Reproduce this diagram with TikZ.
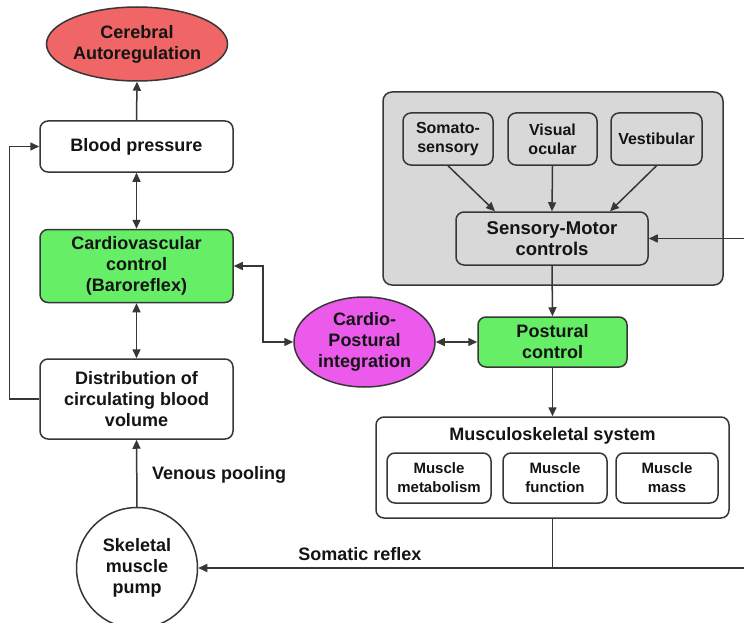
\documentclass[tikz,border=0pt]{standalone}
\usepackage{fontspec}
\setmainfont{Liberation Sans}
\usetikzlibrary{arrows.meta,shapes.geometric}
\definecolor{lc}{RGB}{55,55,55}
\definecolor{redfill}{RGB}{240,102,102}
\definecolor{greenfill}{RGB}{102,238,102}
\definecolor{magfill}{RGB}{236,90,236}
\definecolor{grayfill}{RGB}{216,216,216}
\definecolor{txt}{RGB}{20,20,20}
\begin{document}
\begin{tikzpicture}[x=1pt,y=-1pt,
  base/.style={draw=lc,line width=1.5pt,text=txt,align=center,inner sep=0pt,font=\fontsize{18}{21}\selectfont\bfseries},
  box/.style={base,rectangle,rounded corners=8pt},
  sbox/.style={box,font=\fontsize{16}{19}\selectfont\bfseries},
  mbox/.style={box,font=\fontsize{15}{19}\selectfont\bfseries,minimum width=104pt,minimum height=50pt},
  ell/.style={base,ellipse},
  lbl/.style={text=txt,inner sep=0pt,font=\fontsize{18}{21}\selectfont\bfseries},
  conn/.style={draw=lc,line width=1.5pt},
  arr/.style={conn,-{Triangle[length=9pt,width=8pt]}},
  darr/.style={conn,{Triangle[length=9pt,width=8pt]}-{Triangle[length=9pt,width=8pt]}}
]
\useasboundingbox (0,0) rectangle (744,623);
\fill[white] (0,0) rectangle (744,623);

% gray panel
\node[draw=lc,line width=1.5pt,fill=grayfill,rounded corners=9pt,minimum width=340pt,minimum height=193pt,inner sep=0pt] (panel) at (553,188.5) {};

% left column
\node[ell,fill=redfill,minimum width=172pt,minimum height=74pt] (cer) at (137,44) {Cerebral\\Autoregulation};
\node[box,fill=white,minimum width=193pt,minimum height=51pt] (bp) at (136.5,146.5) {Blood pressure};
\node[box,fill=greenfill,minimum width=193pt,minimum height=73pt] (cv) at (136.5,266) {Cardiovascular\\control\\(Baroreflex)};
\node[box,fill=white,minimum width=193pt,minimum height=80pt] (dist) at (136.5,399) {Distribution of\\circulating blood\\volume};
\node[base,circle,fill=white,minimum size=121pt] (pump) at (137,568) {Skeletal\\muscle\\pump};

% middle
\node[ell,fill=magfill,minimum width=141pt,minimum height=90pt] (cp) at (364.5,342) {Cardio-\\Postural\\integration};
\node[box,fill=greenfill,minimum width=149pt,minimum height=50pt] (pc) at (552.5,342) {Postural\\control};

% sensory
\node[sbox,fill=grayfill,minimum width=90pt,minimum height=52pt] (soma) at (448,139) {Somato-\\sensory};
\node[sbox,fill=grayfill,minimum width=89pt,minimum height=52pt] (vis) at (552.5,139) {Visual\\ocular};
\node[sbox,fill=grayfill,minimum width=91pt,minimum height=52pt] (vest) at (656.5,139) {Vestibular};
\node[box,fill=grayfill,minimum width=192pt,minimum height=53pt,font=\fontsize{18.5}{21}\selectfont\bfseries] (sm) at (552,238.5) {Sensory-Motor\\controls};

% musculoskeletal
\node[box,fill=white,minimum width=353pt,minimum height=101pt] (msk) at (552.5,467.5) {};
\node[lbl] (msktitle) at (552.5,436) {Musculoskeletal system};
\node[mbox,fill=white] (mm1) at (439,478) {Muscle\\metabolism};
\node[mbox,fill=white] (mm2) at (555,478) {Muscle\\function};
\node[mbox,fill=white,minimum width=102pt] (mm3) at (667,478) {Muscle\\mass};

% labels
\node[lbl] (venous) at (219,475) {Venous pooling};
\node[lbl] (somatic) at (360,554) {Somatic reflex};

% free ends
\coordinate (rin) at (744,238.5);
\coordinate (rout) at (744,568);

% connectors
\draw[arr] (bp.north) -- (cer.south);
\draw[darr] (bp.south) -- (cv.north);
\draw[darr] (cv.south) -- (dist.north);
\draw[arr] (pump.north) -- (dist.south);
\draw[arr] (dist.west) -- ++(-30,0) |- (bp.west);
\draw[darr] (cv.east) -- ++(29,0) |- (cp.west);
\draw[darr] (cp.east) -- (pc.west);
\draw[arr] (soma.south) -- ([xshift=-57pt]sm.north);
\draw[arr] (vis.south) -- (sm.north);
\draw[arr] (vest.south) -- ([xshift=58pt]sm.north);
\draw[arr] (rin) -- (sm.east);
\draw[arr] (sm.south) -- (pc.north);
\draw[arr] (pc.south) -- (msk.north);
\draw[conn] (msk.south) -- (msk.south |- pump.east);
\draw[arr] (rout) -- (pump.east);
\end{tikzpicture}
\end{document}
